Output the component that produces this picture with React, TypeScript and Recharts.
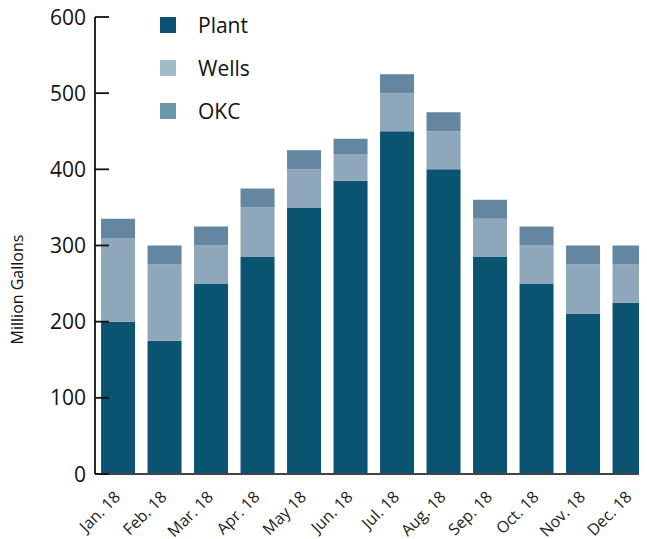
import React from 'react';
import { BarChart, Bar, XAxis, YAxis } from 'recharts';

const MONTHS = ['Jan. 18', 'Feb. 18', 'Mar. 18', 'Apr. 18', 'May 18', 'Jun. 18', 'Jul. 18', 'Aug. 18', 'Sep. 18', 'Oct. 18', 'Nov. 18', 'Dec. 18'];
const PLANT = [200, 175, 250, 285, 350, 385, 450, 400, 285, 250, 210, 225];
const WELLS = [110, 100, 50, 65, 50, 35, 50, 50, 50, 50, 65, 50];
const OKC = [25, 25, 25, 25, 25, 20, 25, 25, 25, 25, 25, 25];
const Y_TICKS = [0, 100, 200, 300, 400, 500, 600];

const SERIES = [
  { key: 'plant', name: 'Plant', bar: '#0a5472', swatch: '#0b5270' },
  { key: 'wells', name: 'Wells', bar: '#8fa7bb', swatch: '#a0bcc7' },
  { key: 'okc', name: 'OKC', bar: '#6586a1', swatch: '#6b97ab' },
];

const data = MONTHS.map((month, i) => ({
  month,
  plant: PLANT[i],
  wells: WELLS[i],
  okc: OKC[i],
}));

const FONT = '"Open Sans", sans-serif';

const YTick = ({ x, y, payload }: any) => (
  <g>
    <line x1={x} x2={x + 14} y1={y} y2={y} stroke="#111" strokeWidth={1.8} />
    <text x={x - 9} y={y} dy="0.36em" textAnchor="end" fontSize={21} fill="#111" fontFamily={FONT}>
      {payload.value}
    </text>
  </g>
);

const XTick = ({ x, y, payload }: any) => (
  <text
    x={x + 3}
    y={y + 24}
    textAnchor="end"
    fontSize={16}
    fill="#222"
    fontFamily={FONT}
    transform={`rotate(-45, ${x + 3}, ${y + 24})`}
  >
    {payload.value}
  </text>
);

const LegendBox = () => (
  <div style={{ position: 'absolute', top: 9, left: 152, fontFamily: FONT }}>
    {SERIES.map((s) => (
      <div key={s.key} style={{ position: 'relative', height: 43 }}>
        <span style={{ position: 'absolute', left: 0, top: 0, width: 16, height: 16, background: s.swatch }} />
        <span style={{ position: 'absolute', left: 38, top: -6, fontSize: 21, color: '#111', whiteSpace: 'nowrap' }}>{s.name}</span>
      </div>
    ))}
  </div>
);

export default function App() {
  return (
    <div style={{ width: 639, height: 531, overflow: 'hidden', position: 'relative' }}>
      <BarChart
        width={650}
        height={531}
        data={data}
        margin={{ top: 9, right: 5, bottom: 0, left: 0 }}
        barCategoryGap="13%"
        style={{ overflow: 'visible' }}
      >
        <YAxis
          domain={[0, 600]}
          ticks={Y_TICKS}
          width={87}
          tickLine={false}
          tickSize={0}
          tickMargin={0}
          axisLine={{ stroke: '#111', strokeWidth: 1.8 }}
          tick={<YTick />}
          label={{ value: 'Million Gallons', angle: -90, position: 'insideLeft', offset: 0, dx: 9, dy: 44, style: { fontSize: 16, fill: '#111', fontFamily: FONT, textAnchor: 'middle' } }}
        />
        <XAxis
          dataKey="month"
          height={65}
          interval={0}
          tickLine={false}
          tickSize={0}
          tickMargin={0}
          axisLine={{ stroke: '#444', strokeWidth: 1.8 }}
          tick={<XTick />}
        />
        {SERIES.map((s) => (
          <Bar key={s.key} dataKey={s.key} name={s.name} stackId="a" fill={s.bar} isAnimationActive={false} />
        ))}
      </BarChart>
      <LegendBox />
    </div>
  );
}
